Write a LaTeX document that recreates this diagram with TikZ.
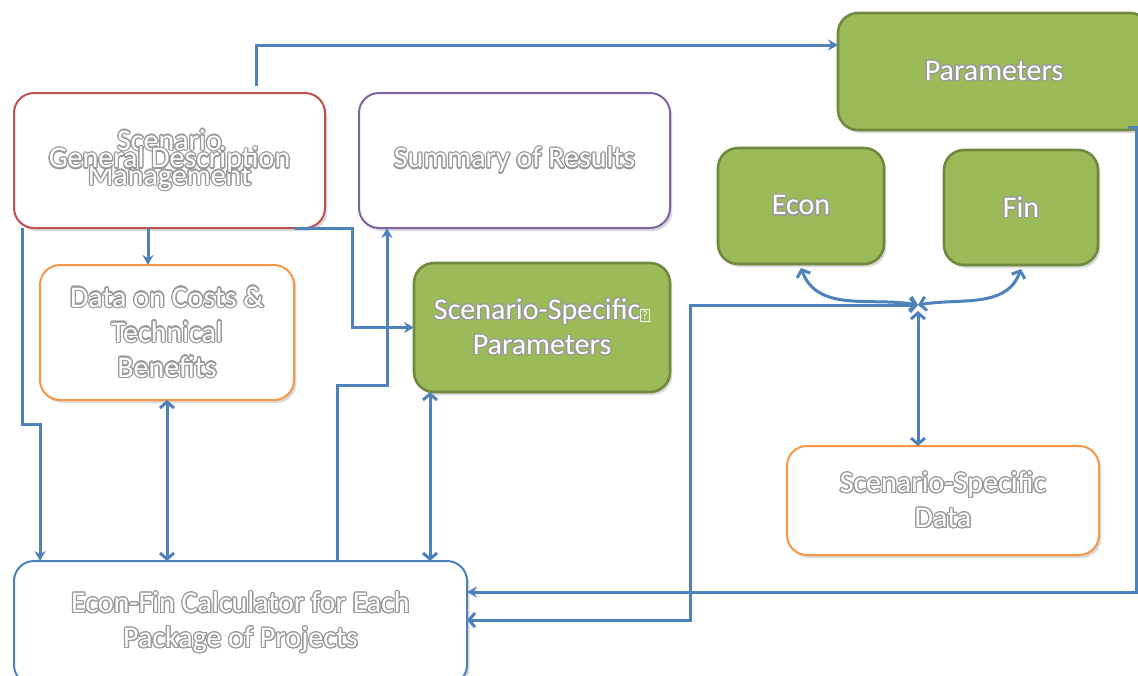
\documentclass[tikz,border=0pt]{standalone}
\usepackage{fontspec}
\setmainfont{Carlito}
\usepackage[copies]{contour}
\contourlength{0.6pt}
\usetikzlibrary{positioning}
\usetikzlibrary{calc}
\usetikzlibrary{arrows.meta}
\usetikzlibrary{shadows}

\definecolor{linkblue}{HTML}{4F81BD}
\definecolor{boxgreen}{HTML}{9BBB59}
\definecolor{greenline}{HTML}{71893F}
\definecolor{boxred}{HTML}{C0504D}
\definecolor{boxpurple}{HTML}{8064A2}
\definecolor{boxorange}{HTML}{F79646}

\newcommand{\shtext}[1]{\contour{black!40}{#1}}
\newcommand{\badglyph}{{\setlength{\fboxsep}{0.5pt}\setlength{\fboxrule}{0.5pt}\fbox{\fontsize{6}{6}\selectfont ?}}}

\begin{document}
\begin{tikzpicture}[x=0.5pt,y=0.5pt,
    font=\fontsize{15}{17.5}\selectfont,
    boxsize/.style 2 args={minimum width=#1*0.5pt,minimum height=#2*0.5pt},
    box/.style={draw,rectangle,rounded corners=10pt,line width=1pt,fill=white,text=white,
      align=center,inner sep=0pt,outer sep=0pt,
      drop shadow={shadow xshift=1.2pt,shadow yshift=-1.5pt,fill=black,opacity=0.15}},
    greenbox/.style={box,fill=boxgreen,draw=greenline,line width=1.3pt},
    flow/.style={draw=linkblue,line width=1.5pt,-{Stealth[length=5pt,width=5.5pt]}},
    flowboth/.style={draw=linkblue,line width=1.5pt,{Straight Barb[length=3pt,width=7pt]}-{Straight Barb[length=3pt,width=7pt]}}]
  \useasboundingbox (0,0) rectangle (1138,-675);

  \node (mgmt) [box,draw=boxred,boxsize={311}{135}] at (169.5,-160.5) {\shtext{Scenario}\\\shtext{Management}};
  \node (general) [text=white,inner sep=0pt] at (mgmt.center) {\shtext{General Description}};
  \node (summary) [box,draw=boxpurple,boxsize={311}{135}] at (514.5,-160.5) {\shtext{Summary of Results}};
  \node (costs) [box,draw=boxorange,boxsize={254}{135}] at (167,-332.5) {\shtext{Data on Costs \&}\\\shtext{Technical}\\\shtext{Benefits}};
  \node (sspar) [greenbox,boxsize={256}{129}] at (542,-327.5) {\shtext{Scenario-Specific}\badglyph\\\shtext{Parameters}};
  \node (params) [greenbox,boxsize={312}{117}] at (994,-71.5) {\shtext{Parameters}};
  \node (econ) [greenbox,boxsize={166}{116}] at (801,-206) {\shtext{Econ}};
  \node (fin) [greenbox,boxsize={154}{115}] at (1021,-207.5) {\shtext{Fin}};
  \node (ssdata) [box,draw=boxorange,boxsize={312}{109}] at (943,-500.5) {\shtext{Scenario-Specific}\\\shtext{Data}};
  \node (calc) [box,draw=linkblue,boxsize={453}{124}] at (240.5,-623) {\shtext{Econ-Fin Calculator for Each}\\\shtext{Package of Projects}};
  \coordinate (hub) at (918,-305);

  \draw [flow] ($(mgmt.north)+(86.5,7)$) |- ($(params.west)+(0,26.5)$);
  \draw [flow] ($(mgmt.south)+(-21.5,0)$) coordinate (m1) -- (m1 |- costs.north);
  \draw [flow] ($(mgmt.south east)+(-30,0)$) -| ($(sspar.west)+(-62,0)$) -- (sspar.west);
  \draw [flow] ($(mgmt.south west)+(8,0)$) |- ($(calc.north west)+(26,137)$) coordinate (m2) -- (m2 |- calc.north);
  \draw [flowboth] (costs.south) -- (costs.south |- calc.north);
  \draw [flow] ($(calc.north west)+(323,0)$) |- ($(summary.south west)+(28,-157)$) coordinate (m3) -- (m3 |- summary.south);
  \draw [flowboth] ($(sspar.south west)+(16,0)$) coordinate (s1) -- (s1 |- calc.north);
  \draw [flow] ($(params.south east)+(-22,3)$) -- ++(8,0) |- ($(calc.east)+(0,31)$);
  \draw [flowboth] ($(calc.east)+(0,3)$) -| ($(hub)+(-228,0)$) -- (hub);
  \draw [flowboth] (hub) to [out=170,in=-70] ($(econ.south)+(0,-4)$);
  \draw [flowboth] (hub) to [out=10,in=-110] ($(fin.south)+(0,-4)$);
  \draw [flowboth] ($(hub)+(0,-6)$) -- (hub |- ssdata.north);
\end{tikzpicture}
\end{document}
